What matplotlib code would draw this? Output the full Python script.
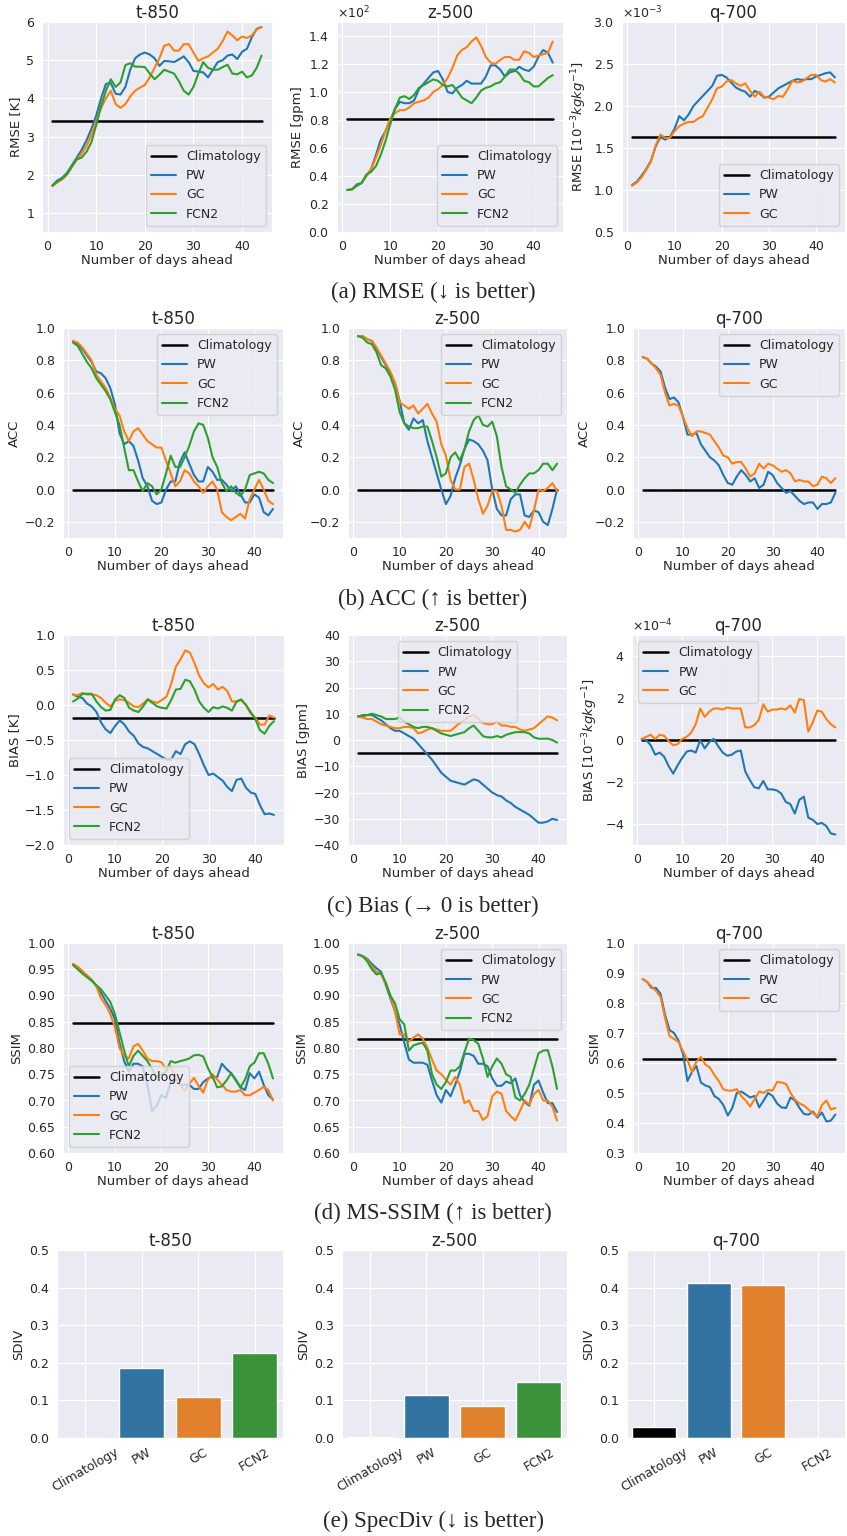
import numpy as np
import matplotlib
matplotlib.use("Agg")
import matplotlib.pyplot as plt
import seaborn as sns

sns.set_style("darkgrid")
plt.rcParams['font.family'] = ['DejaVu Sans']

# Data ####################################################################
days = list(range(1, 45))

# RMSE
rmse_t850_clim = 3.4
rmse_t850_pw = [1.72, 1.85, 1.92, 2.05, 2.25, 2.45, 2.65, 2.9, 3.2, 3.55, 4.0, 4.38, 4.4, 4.12, 4.1, 4.3, 4.75, 5.05, 5.15, 5.2, 5.15, 5.05,
                4.85, 4.98, 4.97, 4.95, 5.02, 5.1, 4.95, 4.72, 4.7, 4.68, 4.55, 4.75, 4.95, 5.0, 5.12, 5.15, 5.03, 5.22, 5.3, 5.6, 5.82, 5.87]
rmse_t850_gc = [1.7, 1.8, 1.88, 2.0, 2.2, 2.4, 2.55, 2.75, 3.05, 3.4, 3.75, 4.0, 4.2, 3.85, 3.75, 3.85, 4.05, 4.2, 4.28, 4.35, 4.55, 4.8,
                5.05, 5.38, 5.42, 5.25, 5.25, 5.42, 5.42, 5.2, 4.98, 5.05, 5.1, 5.2, 5.3, 5.5, 5.75, 5.65, 5.52, 5.62, 5.58, 5.65, 5.8, 5.87]
rmse_t850_fcn2 = [1.72, 1.82, 1.9, 2.02, 2.22, 2.4, 2.45, 2.6, 2.85, 3.3, 3.8, 4.2, 4.5, 4.3, 4.42, 4.87, 4.92, 4.83, 4.83, 4.82, 4.65, 4.5,
                  4.62, 4.75, 4.7, 4.65, 4.45, 4.2, 4.1, 4.3, 4.65, 4.95, 4.8, 4.75, 4.75, 4.82, 4.88, 4.65, 4.63, 4.7, 4.55, 4.6, 4.8, 5.12]

rmse_z500_clim = 81
rmse_z500_pw = [30, 30.5, 34, 35, 40, 45, 55, 66, 72, 80, 88, 93, 92, 92, 94, 102, 106, 110, 114, 115, 109, 100,
                99, 103, 105, 108, 106, 106, 106, 111, 119, 119, 116, 111, 114, 115, 118, 116, 115, 118, 125, 130, 128, 121]
rmse_z500_gc = [30, 30.5, 33, 35, 40, 45, 53, 62, 72, 81, 85, 87, 87, 89, 92, 93, 94, 96, 100, 102, 105, 110,
                117, 126, 130, 132, 136, 139, 133, 125, 121, 120, 123, 125, 125, 123, 123, 129, 128, 125, 126, 127, 128, 136]
rmse_z500_fcn2 = [30, 30.5, 33, 35, 41, 43, 47, 55, 65, 77, 88, 96, 97, 95, 98, 103, 105, 107, 109, 108, 105, 104,
                  105, 101, 96, 94, 92, 96, 101, 103, 104, 106, 107, 111, 116, 116, 113, 108, 107, 104, 104, 107, 110, 112]

rmse_q700_clim = 1.63e-3
rmse_q700_pw = [1.06, 1.1, 1.17, 1.25, 1.35, 1.52, 1.63, 1.6, 1.63, 1.73, 1.88, 1.83, 1.9, 2.0, 2.06, 2.12, 2.18, 2.24, 2.36, 2.37, 2.34, 2.28,
                2.22, 2.19, 2.17, 2.11, 2.18, 2.15, 2.1, 2.11, 2.16, 2.21, 2.24, 2.27, 2.3, 2.32, 2.31, 2.32, 2.32, 2.35, 2.37, 2.39, 2.4, 2.34]
rmse_q700_gc = [1.05, 1.09, 1.15, 1.24, 1.34, 1.53, 1.66, 1.62, 1.62, 1.7, 1.76, 1.79, 1.81, 1.81, 1.85, 1.88, 1.98, 2.08, 2.21, 2.23, 2.29, 2.31,
                2.27, 2.24, 2.27, 2.18, 2.11, 2.17, 2.11, 2.1, 2.08, 2.12, 2.11, 2.2, 2.3, 2.28, 2.29, 2.33, 2.37, 2.37, 2.31, 2.29, 2.32, 2.28]

# ACC
acc_t850_pw = [0.92, 0.9, 0.87, 0.83, 0.79, 0.73, 0.72, 0.69, 0.63, 0.53, 0.35, 0.28, 0.3, 0.27, 0.18, 0.07, 0.02, -0.07, -0.09, -0.08, 0.0, 0.05,
               0.05, 0.17, 0.23, 0.16, 0.09, 0.05, 0.05, 0.14, 0.11, 0.06, 0.06, 0.03, -0.01, 0.02, -0.03, -0.08, -0.08, -0.03, -0.05, -0.14, -0.16, -0.12]
acc_t850_gc = [0.92, 0.91, 0.88, 0.84, 0.8, 0.71, 0.67, 0.63, 0.57, 0.5, 0.46, 0.36, 0.3, 0.36, 0.38, 0.34, 0.3, 0.28, 0.26, 0.26, 0.18, 0.1,
               0.02, 0.05, 0.12, 0.1, 0.05, 0.02, -0.02, 0.02, 0.05, 0.0, -0.14, -0.17, -0.19, -0.17, -0.15, -0.18, -0.06, 0.0, 0.06, 0.0, -0.07, -0.09]
acc_t850_fcn2 = [0.91, 0.89, 0.84, 0.79, 0.75, 0.69, 0.65, 0.61, 0.56, 0.48, 0.4, 0.26, 0.12, 0.12, 0.05, -0.01, 0.04, 0.02, -0.03, 0.0, 0.1, 0.21,
                 0.14, 0.14, 0.2, 0.27, 0.36, 0.41, 0.4, 0.32, 0.2, 0.14, 0.04, -0.01, 0.02, -0.02, -0.04, 0.0, 0.09, 0.1, 0.11, 0.1, 0.06, 0.04]

acc_z500_pw = [0.95, 0.95, 0.93, 0.92, 0.87, 0.82, 0.77, 0.72, 0.66, 0.55, 0.41, 0.37, 0.44, 0.41, 0.43, 0.3, 0.2, 0.1, 0.0, -0.09, -0.04, 0.07,
               0.15, 0.25, 0.31, 0.3, 0.28, 0.24, 0.18, 0.0, -0.12, -0.16, -0.16, -0.06, -0.03, -0.03, -0.16, -0.17, -0.13, -0.14, -0.2, -0.22, -0.12, 0.0]
acc_z500_gc = [0.95, 0.95, 0.93, 0.92, 0.88, 0.83, 0.78, 0.73, 0.66, 0.54, 0.52, 0.5, 0.52, 0.47, 0.5, 0.53, 0.47, 0.42, 0.28, 0.21, 0.06, 0.0,
               0.0, 0.14, 0.16, 0.06, -0.06, -0.15, -0.1, -0.01, -0.01, -0.1, -0.25, -0.25, -0.26, -0.25, -0.2, -0.24, -0.13, 0.0, -0.01, 0.01, 0.04, -0.01]
acc_z500_fcn2 = [0.95, 0.94, 0.91, 0.9, 0.85, 0.77, 0.75, 0.7, 0.62, 0.48, 0.41, 0.39, 0.38, 0.38, 0.39, 0.39, 0.3, 0.2, 0.08, 0.1, 0.2, 0.23,
                 0.18, 0.25, 0.36, 0.43, 0.46, 0.4, 0.39, 0.42, 0.33, 0.14, 0.02, 0.0, -0.02, 0.03, 0.07, 0.1, 0.1, 0.12, 0.16, 0.16, 0.12, 0.16]

acc_q700_pw = [0.82, 0.81, 0.78, 0.76, 0.73, 0.63, 0.56, 0.57, 0.54, 0.45, 0.34, 0.34, 0.35, 0.28, 0.24, 0.2, 0.18, 0.15, 0.09, 0.04, 0.03, 0.08,
               0.12, 0.09, 0.05, 0.07, 0.01, 0.03, 0.11, 0.09, 0.04, 0.01, -0.02, -0.01, -0.04, -0.07, -0.09, -0.08, -0.08, -0.12, -0.09, -0.09, -0.08, -0.02]
acc_q700_gc = [0.82, 0.81, 0.78, 0.75, 0.71, 0.6, 0.52, 0.53, 0.52, 0.45, 0.38, 0.33, 0.36, 0.36, 0.35, 0.34, 0.3, 0.26, 0.21, 0.2, 0.16, 0.17,
               0.17, 0.13, 0.08, 0.1, 0.16, 0.13, 0.16, 0.15, 0.13, 0.11, 0.12, 0.1, 0.05, 0.06, 0.05, 0.05, 0.02, 0.03, 0.08, 0.07, 0.04, 0.07]

# BIAS
bias_t850_clim = -0.19
bias_t850_pw = [0.15, 0.12, 0.1, 0.02, -0.02, -0.1, -0.25, -0.35, -0.4, -0.3, -0.22, -0.28, -0.38, -0.44, -0.55, -0.6, -0.62, -0.66, -0.7, -0.74, -0.78, -0.78,
                -0.66, -0.7, -0.56, -0.52, -0.56, -0.7, -0.86, -1.0, -0.98, -1.03, -1.08, -1.17, -1.23, -1.07, -1.05, -1.18, -1.25, -1.27, -1.43, -1.56, -1.55, -1.57]
bias_t850_gc = [0.15, 0.14, 0.17, 0.15, 0.15, 0.14, 0.1, 0.03, -0.02, 0.06, 0.08, 0.07, 0.03, -0.02, -0.03, 0.02, 0.08, 0.05, 0.03, 0.07, 0.12, 0.3,
                0.55, 0.65, 0.78, 0.75, 0.6, 0.42, 0.31, 0.25, 0.3, 0.22, 0.26, 0.2, 0.05, 0.05, 0.07, 0.0, -0.12, -0.18, -0.28, -0.28, -0.15, -0.18]
bias_t850_fcn2 = [0.05, 0.09, 0.16, 0.16, 0.16, 0.05, -0.03, -0.08, -0.07, 0.08, 0.14, 0.1, -0.04, -0.08, -0.1, -0.02, 0.08, 0.03, -0.02, -0.04, -0.05, 0.07,
                  0.22, 0.23, 0.36, 0.34, 0.22, 0.05, -0.04, -0.1, -0.03, -0.05, -0.02, -0.04, -0.08, 0.05, 0.08, 0.0, -0.1, -0.2, -0.36, -0.41, -0.3, -0.23]

bias_z500_clim = -5
bias_z500_pw = [9, 9, 9.5, 9.5, 8.5, 7.5, 6, 4.5, 3.5, 3.5, 2.5, 1.5, 0.5, -1.5, -3.5, -5.5, -7.5, -10, -12.5, -14, -15.5, -16,
                -16.5, -17, -16, -15, -15.5, -17, -18.5, -20, -21, -21.5, -23, -24, -25.5, -26.5, -27.5, -28.5, -30, -31.5, -31.5, -31, -30, -30.5]
bias_z500_gc = [9, 8.5, 8, 8, 7, 6, 5.5, 5, 4.5, 4.5, 5, 5, 4.5, 2.5, 3, 4, 4.5, 4, 3.5, 3.5, 3.5, 5,
                6.5, 7.5, 9, 9.5, 8, 6.5, 6, 6, 7, 5.5, 5.5, 5, 5, 4, 3.5, 4, 4.5, 6, 7.5, 9, 8.5, 7.5]
bias_z500_fcn2 = [9, 9.5, 9.5, 10, 9.5, 9, 8, 8, 8, 8.5, 7, 6, 5, 4.5, 5, 5, 4.5, 3.5, 2.5, 2, 1.5, 2,
                  2.5, 3, 4.5, 5.5, 3.5, 1.5, 1, 1, 1.5, 1, 2, 2.5, 3, 3, 3, 2.5, 1, 0.5, 0.5, 0.5, 0, -1]

bias_q700_clim = 0.0
bias_q700_pw = [0.05, 0.0, -0.25, -0.7, -0.6, -0.8, -1.25, -1.6, -1.2, -0.85, -0.55, -0.5, -0.6, 0.0, -0.4, -0.1, 0.05, -0.3, -0.6, -0.75, -0.7, -0.55,
                -0.5, -1.5, -1.9, -2.25, -2.3, -1.95, -2.35, -2.35, -2.4, -2.55, -2.95, -3.05, -3.5, -2.85, -2.7, -3.7, -3.8, -4.0, -3.95, -4.1, -4.45, -4.5]
bias_q700_gc = [0.05, 0.15, 0.25, 0.05, 0.25, 0.2, -0.05, -0.25, -0.2, 0.05, 0.15, 0.35, 0.75, 1.5, 1.1, 1.35, 1.5, 1.5, 1.45, 1.55, 1.5, 1.5,
                1.5, 0.6, 0.6, 0.7, 0.95, 1.7, 1.35, 1.45, 1.45, 1.5, 1.45, 1.65, 1.3, 1.95, 1.9, 0.4, 0.85, 1.4, 1.35, 1.0, 0.75, 0.6]

# SSIM
ssim_t850_clim = 0.848
ssim_t850_pw = [0.96, 0.953, 0.945, 0.938, 0.93, 0.918, 0.905, 0.89, 0.875, 0.855, 0.81, 0.775, 0.755, 0.77, 0.77, 0.765, 0.73, 0.68, 0.69, 0.71, 0.705, 0.735,
                0.74, 0.73, 0.73, 0.73, 0.722, 0.722, 0.735, 0.742, 0.745, 0.745, 0.77, 0.76, 0.752, 0.74, 0.725, 0.72, 0.752, 0.742, 0.755, 0.73, 0.71, 0.702]
ssim_t850_gc = [0.96, 0.955, 0.947, 0.938, 0.93, 0.918, 0.895, 0.882, 0.865, 0.84, 0.8, 0.785, 0.78, 0.803, 0.808, 0.795, 0.78, 0.775, 0.775, 0.773, 0.76, 0.765,
                0.745, 0.73, 0.718, 0.732, 0.743, 0.728, 0.715, 0.74, 0.75, 0.74, 0.73, 0.72, 0.717, 0.717, 0.72, 0.71, 0.71, 0.715, 0.72, 0.726, 0.72, 0.7]
ssim_t850_fcn2 = [0.958, 0.95, 0.942, 0.935, 0.928, 0.92, 0.912, 0.9, 0.888, 0.865, 0.83, 0.795, 0.765, 0.785, 0.795, 0.785, 0.775, 0.76, 0.745, 0.75, 0.755, 0.775,
                  0.772, 0.775, 0.777, 0.78, 0.786, 0.787, 0.784, 0.762, 0.745, 0.725, 0.727, 0.738, 0.752, 0.738, 0.725, 0.74, 0.765, 0.772, 0.79, 0.79, 0.77, 0.742]

ssim_z500_clim = 0.818
ssim_z500_pw = [0.978, 0.975, 0.97, 0.96, 0.952, 0.945, 0.92, 0.895, 0.87, 0.845, 0.81, 0.778, 0.772, 0.772, 0.772, 0.768, 0.738, 0.71, 0.696, 0.72, 0.708, 0.73,
                0.755, 0.789, 0.789, 0.785, 0.77, 0.77, 0.765, 0.742, 0.728, 0.728, 0.736, 0.733, 0.742, 0.71, 0.697, 0.69, 0.73, 0.738, 0.715, 0.695, 0.695, 0.678]
ssim_z500_gc = [0.978, 0.975, 0.968, 0.955, 0.945, 0.94, 0.922, 0.9, 0.87, 0.826, 0.826, 0.812, 0.82, 0.826, 0.818, 0.8, 0.778, 0.757, 0.75, 0.74, 0.73, 0.745,
                0.73, 0.695, 0.7, 0.68, 0.68, 0.663, 0.67, 0.708, 0.717, 0.713, 0.68, 0.67, 0.662, 0.68, 0.7, 0.692, 0.712, 0.72, 0.7, 0.7, 0.688, 0.662]
ssim_z500_fcn2 = [0.978, 0.975, 0.965, 0.95, 0.94, 0.943, 0.925, 0.9, 0.885, 0.855, 0.845, 0.795, 0.805, 0.808, 0.81, 0.795, 0.75, 0.73, 0.722, 0.735, 0.757, 0.757,
                  0.765, 0.792, 0.818, 0.815, 0.808, 0.78, 0.745, 0.765, 0.78, 0.77, 0.75, 0.745, 0.706, 0.7, 0.712, 0.73, 0.76, 0.79, 0.795, 0.796, 0.765, 0.722]

ssim_q700_clim = 0.615
ssim_q700_pw = [0.88, 0.87, 0.85, 0.85, 0.83, 0.76, 0.71, 0.7, 0.675, 0.63, 0.54, 0.57, 0.59, 0.535, 0.525, 0.52, 0.49, 0.48, 0.46, 0.425, 0.45, 0.5,
                0.505, 0.495, 0.485, 0.49, 0.452, 0.475, 0.5, 0.49, 0.465, 0.452, 0.45, 0.485, 0.475, 0.45, 0.43, 0.428, 0.438, 0.418, 0.435, 0.405, 0.408, 0.428]
ssim_q700_gc = [0.88, 0.87, 0.855, 0.84, 0.82, 0.75, 0.69, 0.68, 0.67, 0.64, 0.61, 0.57, 0.605, 0.62, 0.595, 0.585, 0.56, 0.54, 0.512, 0.508, 0.508, 0.513,
                0.49, 0.475, 0.455, 0.48, 0.505, 0.5, 0.51, 0.508, 0.537, 0.535, 0.53, 0.5, 0.478, 0.465, 0.458, 0.445, 0.432, 0.422, 0.46, 0.475, 0.445, 0.45]

# SpecDiv bars
sdiv_models = ["Climatology", "PW", "GC", "FCN2"]
sdiv_t850 = [0.0, 0.187, 0.109, 0.227]
sdiv_z500 = [0.002, 0.115, 0.085, 0.149]
sdiv_q700 = [0.03, 0.413, 0.408, 0.0]

captions = ["(a) RMSE (\u2193 is better)", "(b) ACC (\u2191 is better)", "(c) Bias (\u2192 0 is better)",
            "(d) MS-SSIM (\u2191 is better)", "(e) SpecDiv (\u2193 is better)"]

# Figure #################################################################
W, H = 847, 1536
fig = plt.figure(figsize=(W / 100, H / 100), dpi=100)

def new_ax(x0, x1, y0, y1):
    return fig.add_axes([x0 / W, 1 - y1 / H, (x1 - x0) / W, (y1 - y0) / H])

def line_panel(ax, title, ylabel, clim, series, ylim, loc, scale=1.0, sci=False):
    ax.plot([days[0], days[-1]], [clim, clim], color="k", lw=1.8, label="Climatology")
    cols = ["tab:blue", "tab:orange", "tab:green"]
    for (name, vals), c in zip(series, cols):
        ax.plot(days, np.array(vals) * scale, color=c, lw=1.5, label=name)
    ax.set_ylim(*ylim)
    ax.set_title(title, fontsize=12, pad=3)
    ax.set_ylabel(ylabel, fontsize=9.5, labelpad=3)
    ax.set_xlabel("Number of days ahead", fontsize=9.5, labelpad=1)
    ax.tick_params(labelsize=9, pad=2)
    if sci:
        ax.ticklabel_format(axis="y", style="sci", scilimits=(0, 0), useMathText=True)
        ax.yaxis.get_offset_text().set_fontsize(9)
    ax.legend(loc=loc, fontsize=9)

cols_x = [[(42, 272), (337, 563), (622, 845)],
          [(63, 283), (348, 567), (633, 845)],
          [(63, 284), (348, 567), (632, 845)],
          [(63, 283), (348, 567), (633, 845)],
          [(57, 283), (342, 567), (627, 845)]]
rows_y = [(22, 232), (328, 538), (635, 845), (943, 1153), (1250, 1438)]
axs = [[new_ax(c[0], c[1], rows_y[r][0], rows_y[r][1]) for c in cols_x[r]] for r in range(5)]

qunit = r"$10^{-3}kgkg^{-1}$"

# RMSE row
line_panel(axs[0][0], "t-850", "RMSE [K]", rmse_t850_clim,
           [("PW", rmse_t850_pw), ("GC", rmse_t850_gc), ("FCN2", rmse_t850_fcn2)], (0.5, 6), "lower right")
line_panel(axs[0][1], "z-500", "RMSE [gpm]", rmse_z500_clim,
           [("PW", rmse_z500_pw), ("GC", rmse_z500_gc), ("FCN2", rmse_z500_fcn2)], (0, 150), "lower right", sci=True)
line_panel(axs[0][2], "q-700", "RMSE [" + qunit + "]", rmse_q700_clim,
           [("PW", rmse_q700_pw), ("GC", rmse_q700_gc)], (0.5e-3, 3.0e-3), "lower right", scale=1e-3, sci=True)

# ACC row
line_panel(axs[1][0], "t-850", "ACC", 0.0,
           [("PW", acc_t850_pw), ("GC", acc_t850_gc), ("FCN2", acc_t850_fcn2)], (-0.3, 1.0), "upper right")
line_panel(axs[1][1], "z-500", "ACC", 0.0,
           [("PW", acc_z500_pw), ("GC", acc_z500_gc), ("FCN2", acc_z500_fcn2)], (-0.3, 1.0), "upper right")
line_panel(axs[1][2], "q-700", "ACC", 0.0,
           [("PW", acc_q700_pw), ("GC", acc_q700_gc)], (-0.3, 1.0), "upper right")

# BIAS row
line_panel(axs[2][0], "t-850", "BIAS [K]", bias_t850_clim,
           [("PW", bias_t850_pw), ("GC", bias_t850_gc), ("FCN2", bias_t850_fcn2)], (-2, 1), "lower left")
line_panel(axs[2][1], "z-500", "BIAS [gpm]", bias_z500_clim,
           [("PW", bias_z500_pw), ("GC", bias_z500_gc), ("FCN2", bias_z500_fcn2)], (-40, 40), "upper center")
line_panel(axs[2][2], "q-700", "BIAS [" + qunit + "]", bias_q700_clim,
           [("PW", bias_q700_pw), ("GC", bias_q700_gc)], (-5e-4, 5e-4), "upper left", scale=1e-4, sci=True)
axs[2][2].set_yticks([-4e-4, -2e-4, 0, 2e-4, 4e-4])

# SSIM row
line_panel(axs[3][0], "t-850", "SSIM", ssim_t850_clim,
           [("PW", ssim_t850_pw), ("GC", ssim_t850_gc), ("FCN2", ssim_t850_fcn2)], (0.6, 1.0), "lower left")
line_panel(axs[3][1], "z-500", "SSIM", ssim_z500_clim,
           [("PW", ssim_z500_pw), ("GC", ssim_z500_gc), ("FCN2", ssim_z500_fcn2)], (0.6, 1.0), "upper right")
line_panel(axs[3][2], "q-700", "SSIM", ssim_q700_clim,
           [("PW", ssim_q700_pw), ("GC", ssim_q700_gc)], (0.3, 1.0), "upper right")

# SpecDiv row
bar_cols = ["black", "#3274a1", "#e1812c", "#3a923a"]
for ax, title, vals in zip(axs[4], ["t-850", "z-500", "q-700"], [sdiv_t850, sdiv_z500, sdiv_q700]):
    ax.bar(range(len(sdiv_models)), vals, width=0.8, color=bar_cols)
    ax.set_xticks(range(len(sdiv_models)))
    ax.set_xticklabels(sdiv_models, rotation=30, fontsize=9)
    ax.set_xlim(-0.5, 3.5)
    ax.set_ylim(0, 0.5)
    ax.set_title(title, fontsize=12, pad=3)
    ax.set_ylabel("SDIV", fontsize=9.5, labelpad=3)
    ax.tick_params(labelsize=9, pad=2)

# captions
for y, cap in zip([292, 599, 906, 1213, 1521], captions):
    fig.text(433 / W, 1 - y / H, cap, ha="center", va="center", fontsize=16.5,
             family=["Liberation Serif", "DejaVu Serif"])

fig.savefig("out.png", dpi=100)
